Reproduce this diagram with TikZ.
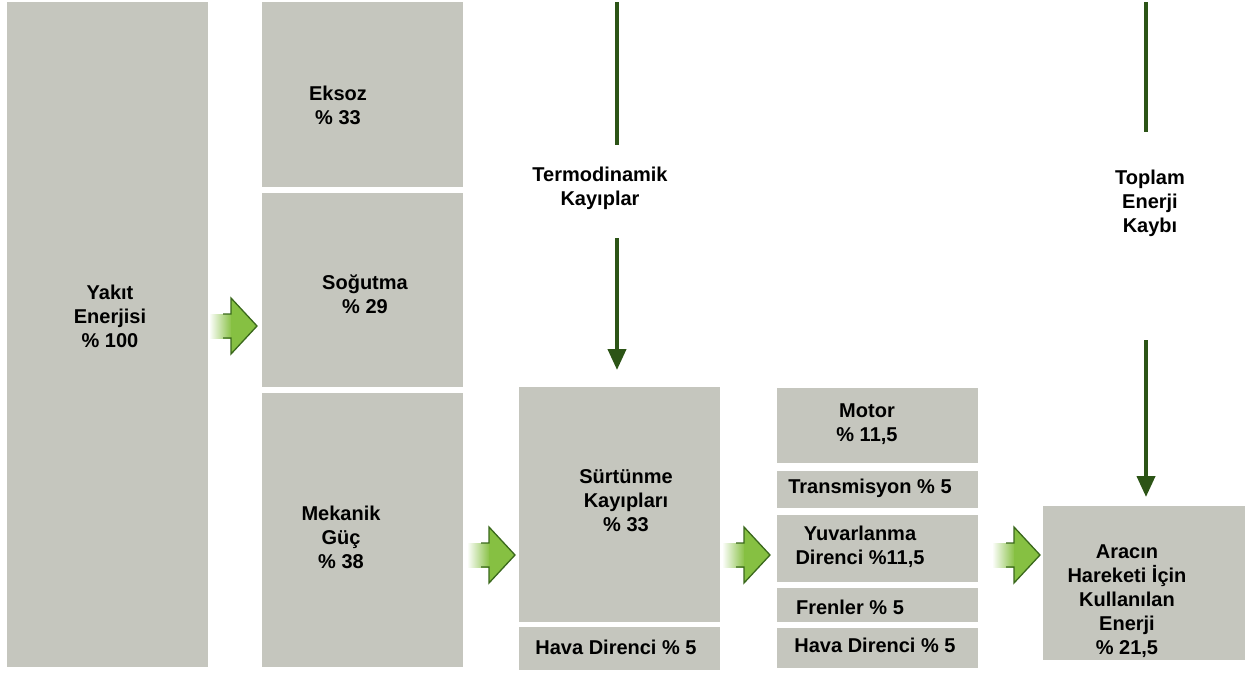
\documentclass[tikz,border=0pt]{standalone}
\usepackage{fontspec}
\setmainfont{Liberation Sans}
\usetikzlibrary{arrows.meta,calc}
\definecolor{boxgray}{RGB}{197,198,190}
\definecolor{linegreen}{RGB}{44,84,22}
\definecolor{arrowgreen}{RGB}{134,192,66}
\definecolor{arrowedge}{RGB}{58,104,28}

\tikzset{
  pics/flowarrow/.style={code={
    % shaft fading in from the left, solid head with dark outline
    \fill[left color=white, right color=arrowgreen] (0,-12) rectangle (23,12);
    \fill[arrowgreen] (22,-28) -- (48,0) -- (22,28) -- cycle;
    \draw[arrowedge, line width=1.3pt, line join=miter]
      (14,-12) -- (22,-12) -- (22,-28) -- (48,0) -- (22,28) -- (22,12) -- (14,12);
  }}
}

\begin{document}
\begin{tikzpicture}[x=1pt,y=-1pt,
  box/.style={fill=boxgray, draw=none, inner sep=0, anchor=north west},
  lbl/.style={font=\fontsize{20}{24}\selectfont\bfseries, align=center, inner sep=0},
  lossline/.style={draw=linegreen, line width=4pt},
  lossarrow/.style={lossline, -{Triangle[width=18pt,length=21pt]}},
]
\useasboundingbox (0,0) rectangle (1256,673);

% energy blocks
\node[box, minimum width=201, minimum height=665] (yakit)    at (7,2)     {};
\node[box, minimum width=201, minimum height=185] (eksoz)    at (262,2)   {};
\node[box, minimum width=201, minimum height=194] (sogutma)  at (262,193) {};
\node[box, minimum width=201, minimum height=274] (mekanik)  at (262,393) {};
\node[box, minimum width=201, minimum height=235] (surtunme) at (519,387) {};
\node[box, minimum width=201, minimum height=43]  (hava1)    at (519,627) {};
\node[box, minimum width=201, minimum height=75]  (motor)    at (777,388) {};
\node[box, minimum width=201, minimum height=37]  (trans)    at (777,471) {};
\node[box, minimum width=201, minimum height=67]  (yuvar)    at (777,515) {};
\node[box, minimum width=201, minimum height=34]  (fren)     at (777,588) {};
\node[box, minimum width=201, minimum height=40]  (hava2)    at (777,628) {};
\node[box, minimum width=202, minimum height=154] (arac)     at (1043,506) {};

% block texts
\node[lbl] (tyakit) at (110,316) {Yakıt\\Enerjisi\\\% 100};
\node[lbl] (teksoz) at (338,105) {Eksoz\\\% 33};
\node[lbl] (tsog)   at (365,294) {Soğutma\\\% 29};
\node[lbl] (tmek)   at (341,537) {Mekanik\\Güç\\\% 38};
\node[lbl] (tsur)   at (626,501) {Sürtünme\\Kayıpları\\\% 33};
\node[lbl] (thava1) at (616,647) {Hava Direnci \% 5};
\node[lbl] (tmotor) at (867,424) {Motor\\\% 11,5};
\node[lbl] (ttrans) at (870,488) {Transmisyon \% 5};
\node[lbl] (tyuvar) at (860,547) {Yuvarlanma\\Direnci \%11,5};
\node[lbl] (tfren)  at (850,607) {Frenler \% 5};
\node[lbl] (thava2) at (875,645) {Hava Direnci \% 5};
\node[lbl] (tarac)  at (1127,601) {Aracın\\Hareketi İçin\\Kullanılan\\Enerji\\\% 21,5};

% loss labels
\node[lbl] (termlbl)   at (600,188) {Termodinamik\\Kayıplar};
\node[lbl] (toplamlbl) at (1150,203) {Toplam\\Enerji\\Kaybı};

% flow arrows between blocks
\pic at (209,326) {flowarrow};
\pic at (467,555) {flowarrow};
\pic at (722,555) {flowarrow};
\pic at (992,555) {flowarrow};

% loss lines
\coordinate (tA) at (617,2);
\coordinate (tB) at (617,145);
\coordinate (tC) at (617,238);
\draw[lossline] (tA) -- (tB);
\draw[lossarrow, shorten >=17pt] (tC) -- (tC |- surtunme.north);

\coordinate (pA) at (1146,2);
\coordinate (pB) at (1146,132);
\coordinate (pC) at (1146,340);
\draw[lossline] (pA) -- (pB);
\draw[lossarrow, shorten >=9pt] (pC) -- (pC |- arac.north);
\end{tikzpicture}
\end{document}
